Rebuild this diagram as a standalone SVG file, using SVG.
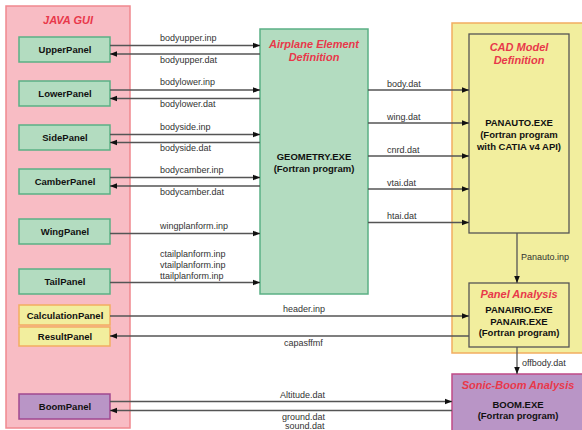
<svg xmlns="http://www.w3.org/2000/svg" width="582" height="430" viewBox="0 0 582 430">
<defs>
<marker id="ah" viewBox="0 0 10 10" refX="10" refY="5" markerWidth="7" markerHeight="7" markerUnits="userSpaceOnUse" orient="auto"><path d="M0,1 L10,5 L0,9 z" fill="#111"/></marker>
<style>
.title{font-family:"Liberation Sans",Arial,sans-serif;font-size:11px;font-weight:bold;font-style:italic;fill:#e8384a;text-anchor:middle}
.pl{font-family:"Liberation Sans",Arial,sans-serif;font-size:9.5px;font-weight:bold;fill:#111;text-anchor:middle}
.bt{font-family:"Liberation Sans",Arial,sans-serif;font-size:9.5px;font-weight:bold;fill:#111;text-anchor:middle}
.lb{font-family:"Liberation Sans",Arial,sans-serif;font-size:9px;fill:#333}
.gp{fill:#b3dcc0;stroke:#5bb085;stroke-width:1.5}
.yp{fill:#f2ee9e;stroke:#f2ad60;stroke-width:1.5}
.pp{fill:#b995c6;stroke:#a04890;stroke-width:1.5}
.ca{stroke:#555;stroke-width:1.3;fill:none;marker-end:url(#ah)}
</style>
</defs>
<g id="javagui">
<rect x="6" y="6" width="124" height="422" fill="#f8bcc4" stroke="#f0888f" stroke-width="1.5"/>
<text class="title" x="68" y="24">JAVA GUI</text>
</g>
<g id="UpperPanel"><rect class="gp" x="19" y="37" width="91" height="25"/><text class="pl" x="65" y="53">UpperPanel</text></g>
<g id="LowerPanel"><rect class="gp" x="19" y="81" width="91" height="25"/><text class="pl" x="65" y="97">LowerPanel</text></g>
<g id="SidePanel"><rect class="gp" x="19" y="125" width="91" height="25"/><text class="pl" x="65" y="141">SidePanel</text></g>
<g id="CamberPanel"><rect class="gp" x="19" y="169" width="91" height="25"/><text class="pl" x="65" y="185">CamberPanel</text></g>
<g id="WingPanel"><rect class="gp" x="19" y="219" width="91" height="25"/><text class="pl" x="65" y="235">WingPanel</text></g>
<g id="TailPanel"><rect class="gp" x="19" y="269" width="91" height="25"/><text class="pl" x="65" y="285">TailPanel</text></g>
<g id="CalculationPanel"><rect class="yp" x="19" y="305" width="91" height="20"/><text class="pl" x="65" y="318.5">CalculationPanel</text></g>
<g id="ResultPanel"><rect class="yp" x="19" y="327" width="91" height="19"/><text class="pl" x="65" y="340">ResultPanel</text></g>
<g id="BoomPanel"><rect class="pp" x="19" y="394" width="91" height="25"/><text class="pl" x="65" y="410">BoomPanel</text></g>

<g id="geometry">
<rect class="gp" x="260" y="29" width="108" height="265"/>
<text class="title" x="314" y="48">Airplane Element</text>
<text class="title" x="314" y="61">Definition</text>
<text class="bt" x="314" y="160">GEOMETRY.EXE</text>
<text class="bt" x="314" y="172">(Fortran program)</text>
</g>

<g id="cad">
<rect x="452" y="23" width="140" height="330" fill="#f2ee9e" stroke="#f2ad60" stroke-width="1.5"/>
</g>
<g id="panauto">
<rect x="469" y="34" width="100" height="199" fill="#f2ee9e" stroke="#555" stroke-width="1.3"/>
<text class="title" x="519" y="51">CAD Model</text>
<text class="title" x="519" y="64">Definition</text>
<text class="bt" x="519" y="126">PANAUTO.EXE</text>
<text class="bt" x="519" y="138">(Fortran program</text>
<text class="bt" x="519" y="150">with CATIA v4 API)</text>
</g>
<g id="panelanalysis">
<rect x="469" y="283" width="100" height="64" fill="#f2ee9e" stroke="#555" stroke-width="1.3"/>
<text class="title" x="519" y="298">Panel Analysis</text>
<text class="bt" x="519" y="313">PANAIRIO.EXE</text>
<text class="bt" x="519" y="324.5">PANAIR.EXE</text>
<text class="bt" x="519" y="336">(Fortran program)</text>
</g>
<g id="sonicboom">
<rect x="452" y="374" width="140" height="70" fill="#b995c6" stroke="#c04a86" stroke-width="1.5"/>
<text class="title" x="518" y="389">Sonic-Boom Analysis</text>
<text class="bt" x="518" y="408">BOOM.EXE</text>
<text class="bt" x="518" y="419">(Fortran program)</text>
</g>

<g id="connectors">
<line class="ca" x1="110" y1="45.5" x2="260" y2="45.5"/>
<line class="ca" x1="260" y1="54" x2="110" y2="54"/>
<line class="ca" x1="110" y1="90" x2="260" y2="90"/>
<line class="ca" x1="260" y1="98.5" x2="110" y2="98.5"/>
<line class="ca" x1="110" y1="134.5" x2="260" y2="134.5"/>
<line class="ca" x1="260" y1="142.5" x2="110" y2="142.5"/>
<line class="ca" x1="110" y1="177.5" x2="260" y2="177.5"/>
<line class="ca" x1="260" y1="186" x2="110" y2="186"/>
<line class="ca" x1="110" y1="233.5" x2="260" y2="233.5"/>
<line class="ca" x1="110" y1="282.5" x2="260" y2="282.5"/>
<line class="ca" x1="110" y1="316" x2="469" y2="316"/>
<line class="ca" x1="469" y1="336" x2="110" y2="336"/>
<line class="ca" x1="110" y1="401.5" x2="452" y2="401.5"/>
<line class="ca" x1="452" y1="410.5" x2="110" y2="410.5"/>
<line class="ca" x1="368" y1="90" x2="469" y2="90"/>
<line class="ca" x1="368" y1="123" x2="469" y2="123"/>
<line class="ca" x1="368" y1="156" x2="469" y2="156"/>
<line class="ca" x1="368" y1="189" x2="469" y2="189"/>
<line class="ca" x1="368" y1="222.5" x2="469" y2="222.5"/>
<line class="ca" x1="517" y1="233" x2="517" y2="283"/>
<line class="ca" x1="517" y1="347" x2="517" y2="374"/>
<text class="lb" x="160" y="41">bodyupper.inp</text>
<text class="lb" x="160" y="63">bodyupper.dat</text>
<text class="lb" x="160" y="85">bodylower.inp</text>
<text class="lb" x="160" y="107">bodylower.dat</text>
<text class="lb" x="160" y="130">bodyside.inp</text>
<text class="lb" x="160" y="151">bodyside.dat</text>
<text class="lb" x="160" y="173">bodycamber.inp</text>
<text class="lb" x="160" y="195">bodycamber.dat</text>
<text class="lb" x="160" y="229">wingplanform.inp</text>
<text class="lb" x="160" y="257">ctailplanform.inp</text>
<text class="lb" x="160" y="268">vtailplanform.inp</text>
<text class="lb" x="160" y="279">ttailplanform.inp</text>
<text class="lb" x="283" y="312">header.inp</text>
<text class="lb" x="284" y="346">capasffmf</text>
<text class="lb" x="280" y="398">Altitude.dat</text>
<text class="lb" x="282" y="420">ground.dat</text>
<text class="lb" x="285" y="428.5">sound.dat</text>
<text class="lb" x="387" y="87">body.dat</text>
<text class="lb" x="387" y="120">wing.dat</text>
<text class="lb" x="387" y="153">cnrd.dat</text>
<text class="lb" x="387" y="186">vtai.dat</text>
<text class="lb" x="387" y="219">htai.dat</text>
<text class="lb" x="521" y="260">Panauto.inp</text>
<text class="lb" x="522" y="366">offbody.dat</text>
</g>
</svg>
